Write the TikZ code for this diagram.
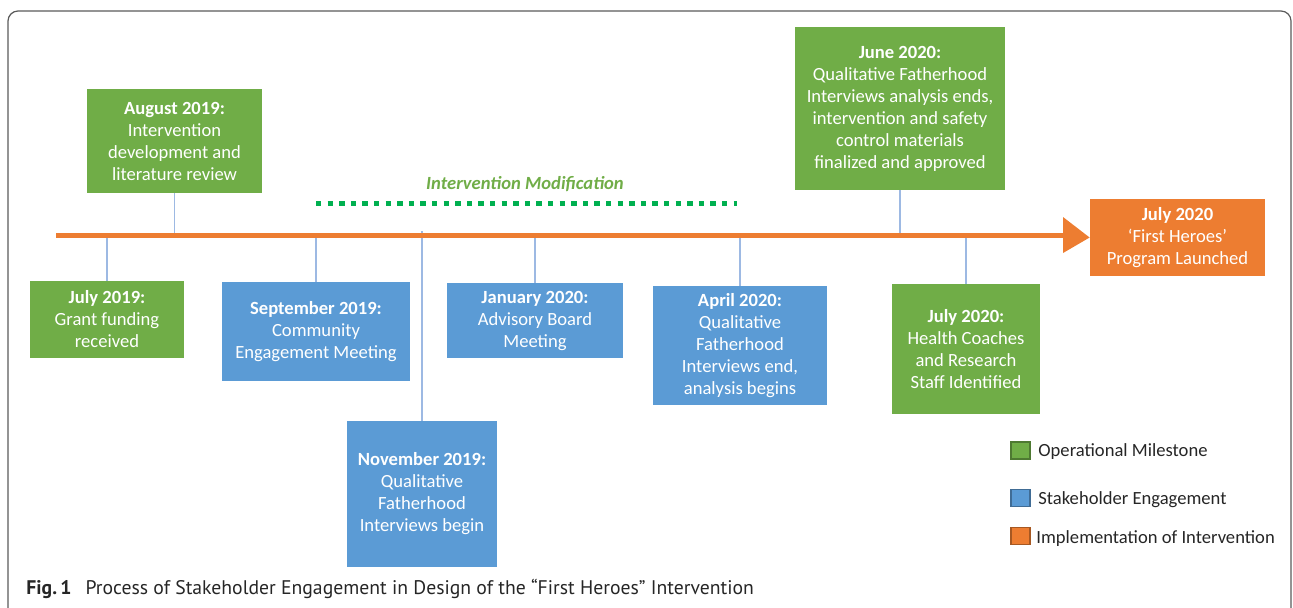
\documentclass[tikz,border=0pt]{standalone}
\usepackage{fontspec}
\setmainfont{Carlito}
\newfontfamily\capfont{PT Sans}
\definecolor{mgreen}{HTML}{70AD47}
\definecolor{mblue}{HTML}{5B9BD5}
\definecolor{morange}{HTML}{ED7D31}
\definecolor{dgreen}{HTML}{00B050}
\definecolor{conn}{HTML}{9DB9E3}
\definecolor{framec}{HTML}{5A5A5A}
\tikzset{
  evbox/.style={inner sep=0pt, align=center, text=white, font=\fontsize{9.3}{11}\selectfont},
  gbox/.style={evbox, fill=mgreen},
  bbox/.style={evbox, fill=mblue},
  obox/.style={evbox, fill=morange},
  tick/.style={draw=conn, line width=0.7pt},
  legsq/.style={minimum width=9.5pt, minimum height=8.5pt, inner sep=0pt, line width=0.6pt},
  legtxt/.style={anchor=west, inner sep=0pt, text=black!85, font=\fontsize{9.3}{11}\selectfont}
}
\begin{document}
\begin{tikzpicture}[x=0.5pt,y=-0.5pt]
\useasboundingbox (0,0) rectangle (1293,607);
% frame
\draw[framec, line width=0.6pt, rounded corners=5pt] (8,610) -- (8,11) -- (1291,11) -- (1291,610);
% boxes
\node[gbox, minimum width=87.5pt, minimum height=52pt] (aug) at (174.5,141) {\textbf{August 2019:}\\Intervention\\development and\\literature review};
\node[gbox, minimum width=105pt, minimum height=81.5pt] (jun) at (900,108.5) {\textbf{June 2020:}\\Qualitative Fatherhood\\Interviews analysis ends,\\intervention and safety\\control materials\\finalized and approved};
\node[obox, minimum width=87.5pt, minimum height=38.5pt] (launch) at (1177.5,237.5) {\textbf{July 2020}\\‘First Heroes’\\Program Launched};
\node[gbox, minimum width=77pt, minimum height=38.5pt] (jul19) at (107,319.5) {\textbf{July 2019:}\\Grant funding\\received};
\node[bbox, minimum width=94pt, minimum height=49.5pt] (sep) at (316,331.5) {\textbf{September 2019:}\\Community\\Engagement Meeting};
\node[bbox, minimum width=75pt, minimum height=73pt] (nov) at (422,494) {\textbf{November 2019:}\\Qualitative\\Fatherhood\\Interviews begin};
\node[bbox, minimum width=88pt, minimum height=37.5pt] (jan) at (535,320.5) {\textbf{January 2020:}\\Advisory Board\\Meeting};
\node[bbox, minimum width=87pt, minimum height=59.5pt] (apr) at (740,345.5) {\textbf{April 2020:}\\Qualitative\\Fatherhood\\Interviews end,\\analysis begins};
\node[gbox, minimum width=74pt, minimum height=65pt] (jul20) at (966,349) {\textbf{July 2020:}\\Health Coaches\\and Research\\Staff Identified};
% timeline
\coordinate (tls) at (56,235);
\coordinate (tle) at (1063,235);
\draw[tick] (aug.south) -- (aug.south |- tls);
\draw[tick] (jun.south) -- (jun.south |- tls);
\draw[tick] (jul19.north) -- (jul19.north |- tls);
\draw[tick] (sep.north) -- (sep.north |- tls);
\draw[tick] (nov.north) -- ([yshift=2pt]nov.north |- tls);
\draw[tick] (jan.north) -- (jan.north |- tls);
\draw[tick] (apr.north) -- (apr.north |- tls);
\draw[tick] (jul20.north) -- (jul20.north |- tls);
\draw[morange, line width=2.5pt] (tls) -- (tle);
\fill[morange] ([yshift=9pt]tle) -- (launch.west) -- ([yshift=-9pt]tle) -- cycle;
% intervention modification
\coordinate (dms) at (316,203);
\coordinate (dme) at (737,203);
\draw[dgreen, line width=2.5pt, dash pattern=on 2.7pt off 3.1pt] (dms) -- (dme);
\node[text=mgreen, font=\fontsize{9.3}{11}\selectfont\bfseries\itshape] (modlbl) at (525,184) {Intervention Modification};
% legend
\node[legsq, fill=mgreen, draw=mgreen!70!black] (lg1) at (1020.5,450.5) {};
\node[legsq, fill=mblue, draw=mblue!70!black] (lg2) at (1020.5,498) {};
\node[legsq, fill=morange, draw=morange!70!black] (lg3) at (1020.5,536) {};
\node[legtxt] (lt1) at (1038,452) {Operational Milestone};
\node[legtxt] (lt2) at (1038,500) {Stakeholder Engagement};
\node[legtxt] (lt3) at (1036,539) {Implementation of Intervention};
% caption
\node[anchor=base west, inner sep=0pt, text=black!85, font=\capfont\fontsize{9.85}{11}\selectfont] (cap) at (26,594) {\textbf{Fig.\,1}\hspace{7pt}Process of Stakeholder Engagement in Design of the “First Heroes” Intervention};
\end{tikzpicture}
\end{document}
